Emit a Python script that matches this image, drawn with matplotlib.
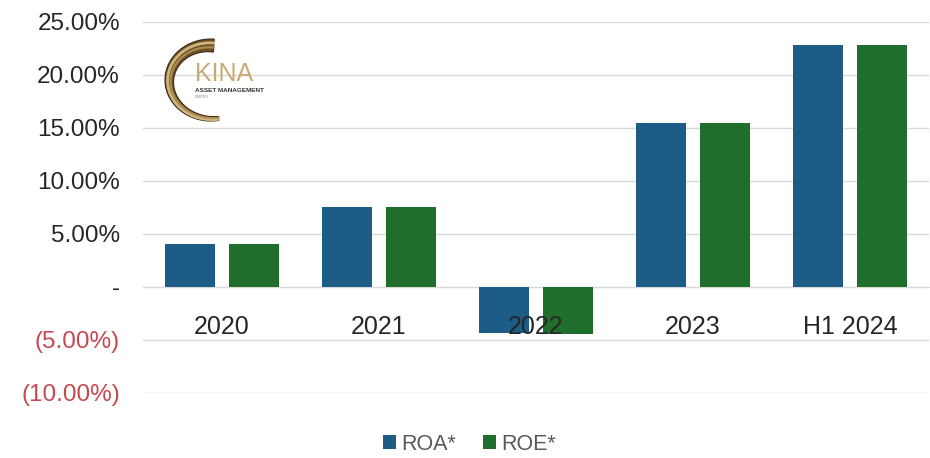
import matplotlib
matplotlib.use("Agg")
import matplotlib.pyplot as plt
from matplotlib.patches import Polygon
import numpy as np

categories = ["2020", "2021", "2022", "2023", "H1 2024"]
roa = [4.1, 7.5, -4.3, 15.5, 22.8]
roe = [4.1, 7.5, -4.4, 15.5, 22.8]
yticks = [-10, -5, 0, 5, 10, 15, 20, 25]
ytick_labels = ["(10.00%)", "(5.00%)", "-", "5.00%", "10.00%", "15.00%", "20.00%", "25.00%"]

BLUE = "#1d5c86"
GREEN = "#1f6e2c"
GRID = "#d9d9d9"
NEG = "#c8474f"
TXT = "#262626"

plt.rcParams["font.family"] = ["Liberation Sans", "DejaVu Sans"]

fig = plt.figure(figsize=(9.3, 4.58), dpi=100)
ax = fig.add_axes([0.1543, 0.142, 0.8441, 0.81])

x = np.arange(len(categories))
w = 0.32
off = 0.205
ax.bar(x - off, roa, w, color=BLUE, label="ROA*", zorder=3)
ax.bar(x + off, roe, w, color=GREEN, label="ROE*", zorder=3)

ax.set_xlim(-0.5, len(categories) - 0.5)
ax.set_ylim(-10, 25)
ax.set_yticks(yticks)
ax.set_yticklabels(ytick_labels, fontsize=17.5)
for lab, v in zip(ax.get_yticklabels(), yticks):
    lab.set_color(NEG if v < 0 else TXT)
ax.tick_params(axis="y", length=0, pad=17)
ax.grid(axis="y", color=GRID, linewidth=1, zorder=0)

# category labels sit just under the zero line, drawn over the bars
ax.spines["bottom"].set_position(("data", 0))
ax.spines["bottom"].set_color(GRID)
ax.set_xticks(x)
ax.set_xticklabels(categories, fontsize=18, color=TXT)
ax.tick_params(axis="x", length=0, pad=20)
ax.xaxis.set_zorder(5)
for s in ["top", "right", "left"]:
    ax.spines[s].set_visible(False)

leg = fig.legend(loc="lower center", bbox_to_anchor=(0.505, -0.035), ncol=2, frameon=False,
                 fontsize=15.5, handlelength=0.6, handleheight=0.6, handletextpad=0.25,
                 columnspacing=1.25)
for t in leg.get_texts():
    t.set_color("#595959")

# company logo (pixel-like coordinates inside its own axes, y downwards)
lax = fig.add_axes([155 / 930, 1 - 125 / 458, 130 / 930, 90 / 458])
lax.set_xlim(155, 285)
lax.set_ylim(125, 35)
lax.axis("off")
th = np.linspace(np.radians(86), np.radians(280), 90)
cx, cy, rx, ry = 211, 80, 46, 41
thick = np.linspace(13, 4, th.size)
outer = np.c_[cx + rx * np.cos(th), cy - ry * np.sin(th)]
inner = np.c_[cx + (rx - thick) * np.cos(th), cy - (ry - thick) * np.sin(th)]
ring = np.vstack([outer, inner[::-1]])
lax.add_patch(Polygon(ring, closed=True, facecolor="#6e5026", edgecolor="#3e2a12", lw=0.8))
for frac, col, lw in [(0.3, "#e0c994", 2.0), (0.65, "#b89656", 1.6)]:
    mid = np.c_[cx + (rx - thick * frac) * np.cos(th), cy - (ry - thick * frac) * np.sin(th)]
    lax.plot(mid[:, 0], mid[:, 1], color=col, lw=lw, alpha=0.85)
lax.text(195, 81, "KINA", color="#c9aa72", fontsize=18, ha="left", va="baseline")
lax.text(195, 92, "ASSET MANAGEMENT", color="#333333", fontsize=4.6, ha="left",
         va="baseline", fontweight="bold")
lax.text(195, 98, "LIMITED", color="#888888", fontsize=2.6, ha="left", va="baseline")

fig.savefig("out.png", dpi=100, facecolor="white")
